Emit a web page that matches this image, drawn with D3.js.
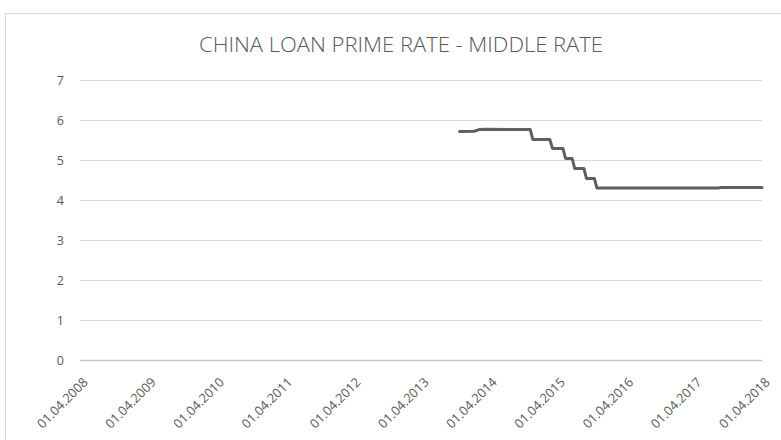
<!DOCTYPE html>
<html>
<head>
<meta charset="utf-8">
<script src="https://cdn.jsdelivr.net/npm/d3@7"></script>
<style>
  body { margin: 0; background: #fff; }
  svg { display: block; }
</style>
</head>
<body>
<svg id="chart" width="781" height="440"></svg>
<script>
// Chart title and axis ticks
const title = "CHINA LOAN PRIME RATE - MIDDLE RATE";
const yTicks = [0, 1, 2, 3, 4, 5, 6, 7];
const xTickDates = ["2008-04-01", "2009-04-01", "2010-04-01", "2011-04-01", "2012-04-01",
  "2013-04-01", "2014-04-01", "2015-04-01", "2016-04-01", "2017-04-01", "2018-04-01"];

// LPR middle rate
const rateDates = ["2013-10-25", "2014-01-10", "2014-02-07", "2014-03-14", "2014-11-07",
  "2014-11-21", "2015-02-20", "2015-03-06", "2015-05-01", "2015-05-15", "2015-06-19",
  "2015-07-03", "2015-08-21", "2015-09-04", "2015-10-16", "2015-10-30", "2017-08-11",
  "2017-08-25", "2018-04-01"];
const rateValues = [5.71, 5.72, 5.76, 5.77, 5.76, 5.51, 5.51, 5.29, 5.29, 5.04, 5.04,
  4.79, 4.79, 4.54, 4.54, 4.30, 4.30, 4.31, 4.31];

const parse = d3.timeParse("%Y-%m-%d");
const fmt = d3.timeFormat("%d.%m.%Y");
const data = rateDates.map((d, i) => ({ date: parse(d), value: rateValues[i] }));

const svg = d3.select("#chart");
const plotLeft = 80, plotRight = 762, plotTop = 80, plotBottom = 360;

// outer chart frame
svg.append("rect")
  .attr("x", 5.5).attr("y", 13.5)
  .attr("width", 800).attr("height", 440)
  .attr("fill", "#fff")
  .attr("stroke", "#d9d9d9");

const x = d3.scaleTime()
  .domain([parse(xTickDates[0]), parse(xTickDates[xTickDates.length - 1])])
  .range([plotLeft, plotRight]);
const y = d3.scaleLinear().domain([0, 7]).range([plotBottom, plotTop]);

// title
svg.append("text")
  .attr("x", 401).attr("y", 52)
  .attr("text-anchor", "middle")
  .attr("textLength", 404)
  .attr("lengthAdjust", "spacingAndGlyphs")
  .style("font", "300 20px 'Open Sans', sans-serif")
  .attr("fill", "#595959")
  .text(title);

// horizontal gridlines + y labels
const yAxis = svg.append("g")
  .attr("transform", `translate(${plotLeft},0)`)
  .call(d3.axisLeft(y).tickValues(yTicks).tickFormat(d3.format("d"))
    .tickSize(-(plotRight - plotLeft)).tickPadding(16));
yAxis.select(".domain").remove();
yAxis.selectAll(".tick line")
  .attr("stroke", d => d === 0 ? "#c6c6c6" : "#d9d9d9")
  .attr("stroke-width", d => d === 0 ? 1.6 : 1);
yAxis.selectAll(".tick text")
  .attr("fill", "#595959")
  .style("font", "12.5px 'Open Sans', sans-serif");

// x labels, rotated
const xAxis = svg.append("g")
  .attr("transform", `translate(0,${plotBottom})`)
  .call(d3.axisBottom(x).tickValues(xTickDates.map(parse)).tickFormat(fmt).tickSize(0));
xAxis.select(".domain").remove();
xAxis.selectAll(".tick text")
  .attr("fill", "#595959")
  .style("font", "12.8px 'Open Sans', sans-serif")
  .attr("text-anchor", "end")
  .attr("dy", 0)
  .attr("transform", "translate(6,21) rotate(-45)");

// rate line
const line = d3.line()
  .x(d => x(d.date))
  .y(d => y(d.value));

svg.append("path")
  .datum(data)
  .attr("d", line)
  .attr("fill", "none")
  .attr("stroke", "#5f5f5f")
  .attr("stroke-width", 3)
  .attr("stroke-linejoin", "round")
  .attr("stroke-linecap", "round");
</script>
</body>
</html>
